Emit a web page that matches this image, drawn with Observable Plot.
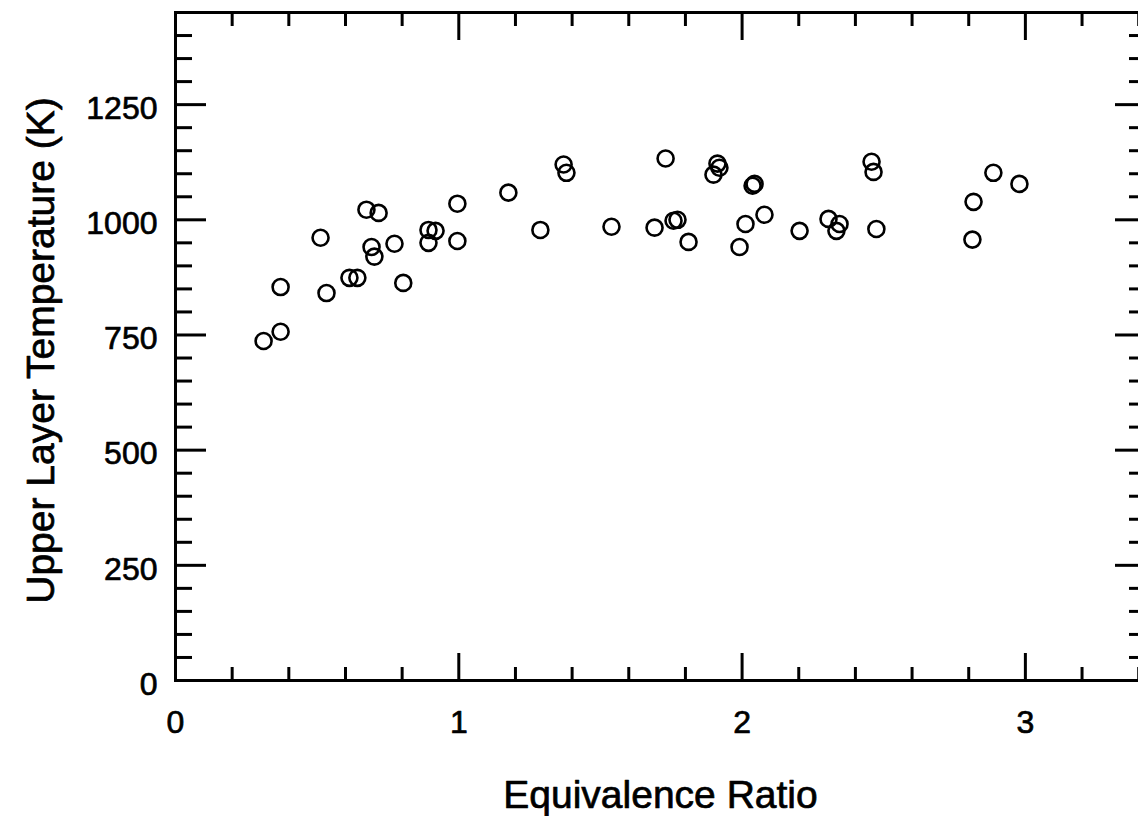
<!DOCTYPE html>
<html><head><meta charset="utf-8">
<script src="https://cdn.jsdelivr.net/npm/d3@7"></script>
<script src="https://cdn.jsdelivr.net/npm/@observablehq/plot@0.6"></script>
<style>
html,body{margin:0;padding:0;background:#fff;}
</style></head><body><div id="chart"></div>
<script>
// Equivalence ratio (x) and upper layer temperature in K (y)
const ratio = [0.311, 0.371, 0.371, 0.512, 0.533, 0.614, 0.642, 0.674, 0.717, 0.692,
  0.702, 0.773, 0.804, 0.893, 0.918, 0.893, 0.995, 0.995, 1.175, 1.288,
  1.370, 1.380, 1.539, 1.691, 1.730, 1.758, 1.772, 1.811, 1.913, 1.920,
  1.899, 2.037, 2.044, 2.012, 1.991, 2.079, 2.203, 2.305, 2.344, 2.333,
  2.457, 2.464, 2.474, 2.817, 2.813, 2.887, 2.979];
const temperature = [737, 757, 854, 961, 841, 874, 874, 1022, 1015, 941,
  920, 948, 863, 978, 976, 950, 1035, 954, 1059, 978,
  1120, 1102, 985, 983, 1133, 998, 1000, 952, 1122, 1113,
  1098, 1074, 1078, 991, 941, 1011, 976, 1002, 991, 976,
  1126, 1104, 980, 1039, 957, 1102, 1078];

const xMajorTicks = [0, 1, 2, 3];
const xMinorTicks = d3.range(1, 18).filter(i => i % 5 !== 0).map(i => i / 5);
const yMajorTicks = [0, 250, 500, 750, 1000, 1250];
const yMinorTicks = d3.range(50, 1450, 50).filter(v => v % 250 !== 0);

const xTitle = "Equivalence Ratio";
const yTitle = "Upper Layer Temperature (K)";

const data = ratio.map((r, i) => ({ratio: r, temperature: temperature[i]}));

const font = "'Liberation Sans', Arial, Helvetica, sans-serif";
const noText = () => "";
const tickStyle = {strokeWidth: 3, strokeLinecap: "butt", label: null, tickFormat: noText};
const textInk = {fill: "#000", stroke: "#000", strokeWidth: 0.7};

const chart = Plot.plot({
  width: 1138,
  height: 816,
  marginLeft: 175,
  marginRight: -7,
  marginTop: 12,
  marginBottom: 136,
  x: {domain: [0, 3.424]},
  y: {domain: [0, 1450]},
  style: {fontFamily: font, color: "#000", background: "#fff", overflow: "hidden"},
  marks: [
    // inward ticks on all four sides
    Plot.axisX(xMajorTicks, {anchor: "bottom", tickSize: -27, ...tickStyle}),
    Plot.axisX(xMinorTicks, {anchor: "bottom", tickSize: -13, ...tickStyle}),
    Plot.axisX(xMajorTicks, {anchor: "top", tickSize: -27, ...tickStyle}),
    Plot.axisX(xMinorTicks, {anchor: "top", tickSize: -13, ...tickStyle}),
    Plot.axisY(yMajorTicks, {anchor: "left", tickSize: -31, ...tickStyle}),
    Plot.axisY(yMinorTicks, {anchor: "left", tickSize: -17, ...tickStyle}),
    Plot.axisY(yMajorTicks, {anchor: "right", tickSize: -31, ...tickStyle}),
    Plot.axisY(yMinorTicks, {anchor: "right", tickSize: -17, ...tickStyle}),
    // tick labels
    Plot.text(xMajorTicks, {x: d => d, text: d => String(d), frameAnchor: "bottom", lineAnchor: "top", dy: 30, fontSize: 32, ...textInk}),
    Plot.text(yMajorTicks, {y: d => d, text: d => String(d), frameAnchor: "left", textAnchor: "end", dx: -18, dy: 4, fontSize: 32, ...textInk}),
    Plot.frame({stroke: "#000", strokeWidth: 3}),
    // axis titles
    Plot.text([xTitle], {frameAnchor: "bottom", textAnchor: "middle", lineAnchor: "top", dy: 100, fontSize: 39, ...textInk}),
    Plot.text([yTitle], {frameAnchor: "left", textAnchor: "middle", rotate: -90, lineAnchor: "top", dx: -149, dy: 4, fontSize: 39, ...textInk}),
    // data
    Plot.dot(data, {x: "ratio", y: "temperature", r: 8, stroke: "#000", strokeWidth: 2.6, fill: "none"})
  ]
});
document.getElementById("chart").appendChild(chart);
</script>
</body></html>
